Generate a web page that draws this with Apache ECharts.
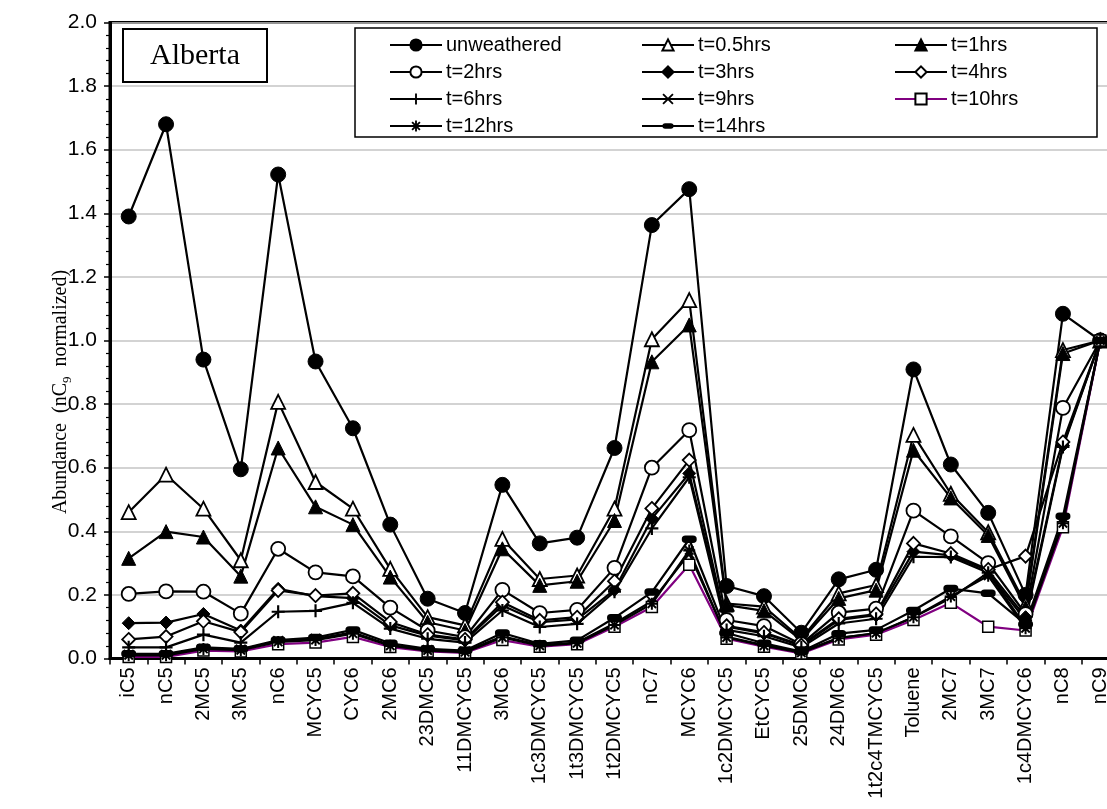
<!DOCTYPE html>
<html>
<head>
<meta charset="utf-8">
<script src="https://cdn.jsdelivr.net/npm/echarts@6/dist/echarts.min.js"></script>
<style>
html, body { margin: 0; padding: 0; background: #fff; }
#chart { width: 1107px; height: 809px; }
</style>
</head>
<body>
<div id="chart"></div>
<script>
// Light hydrocarbon abundances, normalised to nC9, for the Alberta oil at successive weathering times
const categories = ['iC5', 'nC5', '2MC5', '3MC5', 'nC6', 'MCYC5', 'CYC6', '2MC6', '23DMC5', '11DMCYC5',
  '3MC6', '1c3DMCYC5', '1t3DMCYC5', '1t2DMCYC5', 'nC7', 'MCYC6', '1c2DMCYC5', 'EtCYC5', '25DMC6',
  '24DMC6', '1t2c4TMCYC5', 'Toluene', '2MC7', '3MC7', '1c4DMCYC6', 'nC8', 'nC9'];

const yTickLabels = ['0.0', '0.2', '0.4', '0.6', '0.8', '1.0', '1.2', '1.4', '1.6', '1.8', '2.0'];

const unweathered = [1.39, 1.68, 0.94, 0.595, 1.522, 0.934, 0.724, 0.421, 0.188, 0.143, 0.546, 0.362, 0.380, 0.662,
  1.363, 1.476, 0.228, 0.196, 0.081, 0.249, 0.279, 0.909, 0.610, 0.458, 0.200, 1.084, 1.0];
const t0_5 = [0.460, 0.578, 0.471, 0.309, 0.807, 0.555, 0.471, 0.282, 0.130, 0.104, 0.376, 0.250, 0.261, 0.471,
  1.004, 1.127, 0.173, 0.163, 0.062, 0.205, 0.231, 0.703, 0.518, 0.397, 0.170, 0.970, 1.0];
const t1 = [0.315, 0.399, 0.382, 0.259, 0.662, 0.477, 0.421, 0.256, 0.114, 0.088, 0.345, 0.230, 0.243, 0.434,
  0.933, 1.049, 0.168, 0.150, 0.058, 0.189, 0.215, 0.655, 0.505, 0.387, 0.160, 0.959, 1.0];
const t2 = [0.203, 0.211, 0.210, 0.141, 0.345, 0.271, 0.258, 0.160, 0.088, 0.067, 0.216, 0.143, 0.153, 0.285,
  0.600, 0.718, 0.121, 0.102, 0.045, 0.144, 0.157, 0.465, 0.384, 0.300, 0.140, 0.788, 1.0];
const t3 = [0.111, 0.113, 0.140, 0.088, 0.219, 0.196, 0.190, 0.104, 0.072, 0.057, 0.167, 0.114, 0.123, 0.216,
  0.440, 0.582, 0.100, 0.079, 0.040, 0.121, 0.136, 0.336, 0.324, 0.277, 0.130, 0.670, 1.0];
const t4 = [0.060, 0.069, 0.117, 0.083, 0.214, 0.198, 0.205, 0.115, 0.075, 0.060, 0.177, 0.120, 0.130, 0.243,
  0.472, 0.624, 0.103, 0.082, 0.042, 0.125, 0.140, 0.362, 0.330, 0.280, 0.322, 0.681, 1.0];
const t6 = [0.035, 0.035, 0.075, 0.050, 0.147, 0.150, 0.175, 0.094, 0.062, 0.050, 0.151, 0.099, 0.109, 0.210,
  0.409, 0.570, 0.090, 0.070, 0.035, 0.110, 0.125, 0.320, 0.319, 0.270, 0.120, 0.665, 1.0];
const t9 = [0.012, 0.012, 0.030, 0.028, 0.055, 0.062, 0.082, 0.042, 0.027, 0.022, 0.070, 0.042, 0.050, 0.110,
  0.180, 0.330, 0.068, 0.042, 0.020, 0.065, 0.078, 0.130, 0.190, 0.270, 0.100, 0.430, 1.0];
const t10 = [0.005, 0.005, 0.025, 0.022, 0.045, 0.050, 0.068, 0.036, 0.022, 0.018, 0.058, 0.037, 0.045, 0.100,
  0.162, 0.295, 0.062, 0.037, 0.016, 0.060, 0.075, 0.121, 0.175, 0.100, 0.088, 0.413, 1.0];
const t12 = [0.010, 0.010, 0.030, 0.026, 0.052, 0.058, 0.078, 0.040, 0.025, 0.020, 0.066, 0.040, 0.048, 0.105,
  0.172, 0.340, 0.066, 0.040, 0.018, 0.064, 0.080, 0.130, 0.195, 0.260, 0.095, 0.425, 1.0];
const t14 = [0.015, 0.015, 0.035, 0.030, 0.058, 0.066, 0.090, 0.048, 0.030, 0.025, 0.080, 0.046, 0.057, 0.128,
  0.209, 0.375, 0.080, 0.048, 0.022, 0.078, 0.090, 0.151, 0.220, 0.205, 0.108, 0.447, 1.0];

// Marker shapes that ECharts does not ship with
const PLUS = 'path://M-1,-6H1V-1H6V1H1V6H-1V1H-6V-1H-1Z';
const CROSS = 'path://M-6,-4.6L-4.6,-6L6,4.6L4.6,6Z M4.6,-6L6,-4.6L-4.6,6L-6,4.6Z';
const STAR = 'path://M-1,-6H1V-1H6V1H1V6H-1V1H-6V-1H-1Z M-4.9,-3.5L-3.5,-4.9L4.9,3.5L3.5,4.9Z M3.5,-4.9L4.9,-3.5L-3.5,4.9L-4.9,3.5Z';
// rounded dash inside a square box, so it keeps its shape in the legend too
const DASH = 'path://M-7,-7L-7,-7Z M7,7L7,7Z M-3.5,-3.5H3.5A3.5,3.5,0,0,1,3.5,3.5H-3.5A3.5,3.5,0,0,1,-3.5,-3.5Z';

const SANS = '"Liberation Sans", Arial, sans-serif';
const SERIF = '"Liberation Serif", "Times New Roman", serif';

const filled = { color: '#000', borderColor: '#000', borderWidth: 1 };
const hollow = { color: '#fff', borderColor: '#000', borderWidth: 1.8 };

const seriesDefs = [
  { name: 'unweathered', data: unweathered, symbol: 'circle', size: 15, item: filled },
  { name: 't=0.5hrs', data: t0_5, symbol: 'triangle', size: 14, item: hollow },
  { name: 't=1hrs', data: t1, symbol: 'triangle', size: 14, item: filled },
  { name: 't=2hrs', data: t2, symbol: 'circle', size: 14, item: hollow },
  { name: 't=3hrs', data: t3, symbol: 'diamond', size: 13, item: filled },
  { name: 't=4hrs', data: t4, symbol: 'diamond', size: 13, item: hollow },
  { name: 't=6hrs', data: t6, symbol: PLUS, size: 13, item: { color: '#000' } },
  { name: 't=9hrs', data: t9, symbol: CROSS, size: 11, item: { color: '#000' } },
  { name: 't=10hrs', data: t10, symbol: 'rect', size: 11, item: { color: '#fff', borderColor: '#000', borderWidth: 1.5 }, line: '#800080' },
  { name: 't=12hrs', data: t12, symbol: STAR, size: 12, item: { color: '#000' } },
  { name: 't=14hrs', data: t14, symbol: DASH, size: 15, item: { color: '#000' } }
];

const series = seriesDefs.map(d => ({
  name: d.name,
  type: 'line',
  data: d.data,
  symbol: d.symbol,
  symbolSize: d.size,
  showAllSymbol: true,
  itemStyle: d.item,
  lineStyle: { color: d.line || '#000', width: 2.2 },
  emphasis: { disabled: true }
}));

const legendCommon = {
  orient: 'vertical',
  top: 35,
  padding: 0,
  itemWidth: 52,
  itemHeight: 14,
  itemGap: 7,
  selectedMode: false,
  z: 20,
  textStyle: { fontFamily: SANS, fontSize: 20, color: '#000', lineHeight: 20, padding: [0, 0, 0, -1] }
};

const chart = echarts.init(document.getElementById('chart'), null, { renderer: 'canvas' });
chart.setOption({
  animation: false,
  backgroundColor: '#fff',
  grid: {
    left: 110, top: 22.5, width: 1009, height: 636,
    outerBoundsMode: 'none',
    show: true, borderColor: '#000', borderWidth: 3, backgroundColor: 'transparent'
  },
  legend: [
    Object.assign({ left: 389, data: ['unweathered', 't=2hrs', 't=6hrs', 't=12hrs'] }, legendCommon),
    Object.assign({ left: 641, data: ['t=0.5hrs', 't=3hrs', 't=9hrs', 't=14hrs'] }, legendCommon),
    Object.assign({ left: 894, data: ['t=1hrs', 't=4hrs', 't=10hrs'] }, legendCommon)
  ],
  xAxis: {
    type: 'category',
    data: categories,
    boundaryGap: true,
    axisLine: { lineStyle: { color: '#000', width: 3 } },
    axisTick: { show: true, alignWithLabel: false, length: 6, lineStyle: { color: '#000', width: 1.5 } },
    axisLabel: { rotate: 90, interval: 0, margin: 9, fontFamily: SANS, fontSize: 20, color: '#000' },
    splitLine: { show: false }
  },
  yAxis: {
    type: 'value',
    min: 0, max: 2, interval: 0.2,
    axisLine: { show: true, lineStyle: { color: '#000', width: 3 } },
    axisTick: { show: true, length: 6, lineStyle: { color: '#000', width: 1.5 } },
    minorTick: { show: true, splitNumber: 5, length: 4, lineStyle: { color: '#000', width: 1.2 } },
    axisLabel: {
      margin: 13, fontFamily: SANS, fontSize: 21, color: '#000',
      formatter: v => yTickLabels[Math.round(v / 0.2)]
    },
    splitLine: { show: true, lineStyle: { color: '#c4c4c4', width: 1.5 } }
  },
  graphic: [
    {
      type: 'rect', z: 10,
      shape: { x: 355, y: 28, width: 742, height: 109 },
      style: { fill: '#fff', stroke: '#000', lineWidth: 1.5 }
    },
    {
      type: 'rect', z: 10,
      shape: { x: 123, y: 29, width: 144, height: 53 },
      style: { fill: '#fff', stroke: '#000', lineWidth: 2 }
    },
    {
      type: 'text', z: 11, x: 195, y: 56,
      style: { text: 'Alberta', font: '30px ' + SERIF, fill: '#000', align: 'center', verticalAlign: 'middle' }
    },
    {
      type: 'text', z: 11, x: 61, y: 392, rotation: Math.PI / 2,
      style: {
        text: '{a|Abundance  (nC}{s|9}{a|  normalized)}',
        align: 'center', verticalAlign: 'middle', fill: '#000',
        rich: {
          a: { fontFamily: SERIF, fontSize: 20, lineHeight: 26, fill: '#000' },
          s: { fontFamily: SERIF, fontSize: 13, lineHeight: 26, verticalAlign: 'bottom', fill: '#000' }
        }
      }
    }
  ],
  series: series
});
</script>
</body>
</html>
